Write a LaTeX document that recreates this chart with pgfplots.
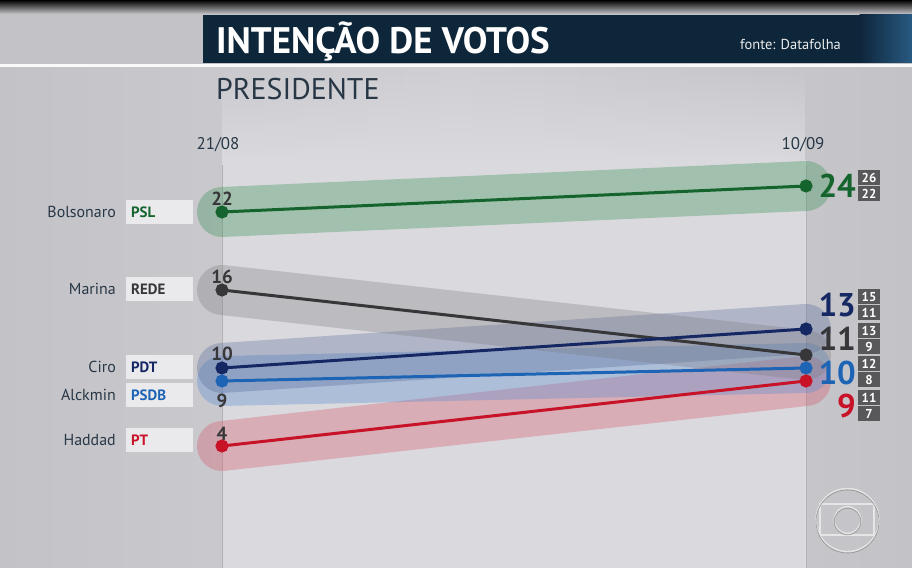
\documentclass[border=0pt]{standalone}
\usepackage{fontspec}
\setmainfont{PT Sans}
\usepackage{pgfplots}
\pgfplotsset{compat=1.18}
\usetikzlibrary{fadings}
\definecolor{bgA}{RGB}{194,194,199}
\definecolor{bgB}{RGB}{208,208,212}
\definecolor{panel}{RGB}{218,218,222}
\definecolor{titlebar}{RGB}{14,38,58}
\definecolor{titlebarR}{RGB}{40,90,130}
\definecolor{slate}{RGB}{40,55,70}
\definecolor{boxcol}{RGB}{234,234,237}
\definecolor{cigray}{RGB}{88,88,90}
\definecolor{cgreen}{RGB}{22,100,45}
\definecolor{cdark}{RGB}{55,55,58}
\definecolor{cnavy}{RGB}{22,40,100}
\definecolor{cblue}{RGB}{30,100,180}
\definecolor{cred}{RGB}{200,18,40}
\definecolor{bgreen}{RGB}{70,150,95}
\definecolor{bgray}{RGB}{120,120,125}
\definecolor{bnavy}{RGB}{80,100,150}
\definecolor{bblue}{RGB}{90,140,210}
\definecolor{bred}{RGB}{215,90,110}
\begin{document}
\begin{tikzpicture}[x=1bp,y=1bp]
\clip (0,0) rectangle (912,568);
% ---------- background (pixel coordinates, y downward)
\begin{scope}[shift={(0bp,568bp)}, y=-1bp]
  \fill[bgA] (0,0) rectangle (912,568);
  \shade[left color=bgA, right color=bgA, middle color=bgB] (0,68) rectangle (912,568);
  \fill[panel, path fading=north] (222,68) rectangle (806,160.5);
  \fill[panel] (222,160) rectangle (806,568);
  \shade[top color=black, bottom color=bgA] (0,0) rectangle (912,14);
  \fill[titlebar] (203,15) rectangle (860,63);
  \shade[left color=titlebar, right color=titlebarR] (859.5,15) rectangle (912,63);
  \fill[white!95!gray] (0,64) rectangle (912,67.5);
  \draw[gray!60, line width=0.8bp] (222,165) -- (222,568);
  \draw[gray!60, line width=0.8bp] (806,165) -- (806,568);
  % party boxes
  \foreach \yy in {212,289,367,395,440}{
    \fill[boxcol] (126,\yy-12) rectangle (193,\yy+12);
  }
  % Globo logo
  \begin{scope}[line width=1.4bp]
    \draw[white!80!gray] (847.5,520) circle (31.5);
    \draw[white!80!gray] (820,504) rectangle (874,535);
    \draw[white!80!gray] (847.5,520) circle (13.3);
    \draw[gray!85, line width=0.6bp] (847.5,521.5) circle (31.5);
    \draw[gray!85, line width=0.6bp] (847.5,521.5) circle (13.3);
  \end{scope}
\end{scope}
% ---------- data
\begin{axis}[at={(0,0)}, anchor=south west, scale only axis,
  width=912bp, height=568bp,
  xmin=-0.380137, xmax=1.181507, ymin=-5.384615, ymax=38.307692,
  axis lines=none, clip=false]
  % bands
  \addplot[forget plot, line width=50bp, line cap=round, draw=bred, draw opacity=0.35] coordinates {(0,4) (1,9)};
  \addplot[forget plot, line width=50bp, line cap=round, draw=bblue, draw opacity=0.35] coordinates {(0,9) (1,10)};
  \addplot[forget plot, line width=50bp, line cap=round, draw=bnavy, draw opacity=0.3] coordinates {(0,10) (1,13)};
  \addplot[forget plot, line width=50bp, line cap=round, draw=bgray, draw opacity=0.3] coordinates {(0,16) (1,11)};
  \addplot[forget plot, line width=50bp, line cap=round, draw=bgreen, draw opacity=0.38] coordinates {(0,22) (1,24)};
  % lines
  \addplot[line width=3bp, color=cgreen, mark=*, mark size=5bp] coordinates {(0,22) (1,24)};
  \addplot[line width=3bp, color=cdark, mark=*, mark size=5bp] coordinates {(0,16) (1,11)};
  \addplot[line width=3bp, color=cnavy, mark=*, mark size=5bp] coordinates {(0,10) (1,13)};
  \addplot[line width=3bp, color=cblue, mark=*, mark size=5bp] coordinates {(0,9) (1,10)};
  \addplot[line width=3bp, color=cred, mark=*, mark size=5bp] coordinates {(0,4) (1,9)};
\end{axis}
% ---------- texts
\begin{scope}[shift={(0bp,568bp)}, y=-1bp, every node/.style={inner sep=0pt}]
  \node[anchor=west, text=white, font=\bfseries\fontsize{37}{40}\selectfont] at (216,42) {INTENÇÃO DE VOTOS};
  \node[anchor=west, text=white!85!gray, font=\fontsize{14.5}{16}\selectfont] at (740,44) {fonte: Datafolha};
  \node[anchor=west, text=slate, font=\fontsize{30}{32}\selectfont] at (216,89) {PRESIDENTE};
  \node[text=slate, font=\fontsize{17}{19}\selectfont] at (218,145) {21/08};
  \node[text=slate, font=\fontsize{17}{19}\selectfont] at (803,145) {10/09};
  % names
  \foreach \nm/\yy in {Bolsonaro/212, Marina/289, Ciro/367, Alckmin/395, Haddad/440}{
    \node[anchor=east, text=slate, font=\fontsize{16}{18}\selectfont] at (116,\yy) {\nm};
  }
  \node[anchor=west, text=cgreen, font=\bfseries\fontsize{15}{17}\selectfont] at (131,212) {PSL};
  \node[anchor=west, text=cdark, font=\bfseries\fontsize{15}{17}\selectfont] at (131,289) {REDE};
  \node[anchor=west, text=cnavy, font=\bfseries\fontsize{15}{17}\selectfont] at (131,367) {PDT};
  \node[anchor=west, text=cblue, font=\bfseries\fontsize{15}{17}\selectfont] at (131,395) {PSDB};
  \node[anchor=west, text=cred, font=\bfseries\fontsize{15}{17}\selectfont] at (131,440) {PT};
  % left values
  \foreach \v/\yy in {22/199, 16/277, 10/354, 9/401, 4/434}{
    \node[text=cdark, font=\bfseries\fontsize{19}{21}\selectfont] at (222,\yy) {\v};
  }
  % right values
  \node[anchor=east, text=cgreen, font=\bfseries\fontsize{33}{36}\selectfont] at (856,186) {24};
  \node[anchor=east, text=cnavy, font=\bfseries\fontsize{33}{36}\selectfont] at (856,305) {13};
  \node[anchor=east, text=cdark, font=\bfseries\fontsize{33}{36}\selectfont] at (856,339) {11};
  \node[anchor=east, text=cblue, font=\bfseries\fontsize{33}{36}\selectfont] at (856,373) {10};
  \node[anchor=east, text=cred, font=\bfseries\fontsize{33}{36}\selectfont] at (856,406) {9};
  % confidence boxes
  \foreach \t/\yy in {26/178, 22/194, 15/297, 11/313, 13/331, 9/347, 12/364, 8/380, 11/398, 7/414}{
    \fill[cigray] (858,\yy-7.5) rectangle (880,\yy+7.5);
    \node[text=white, font=\bfseries\fontsize{13}{14}\selectfont] at (869,\yy) {\t};
  }
\end{scope}
\end{tikzpicture}
\end{document}
